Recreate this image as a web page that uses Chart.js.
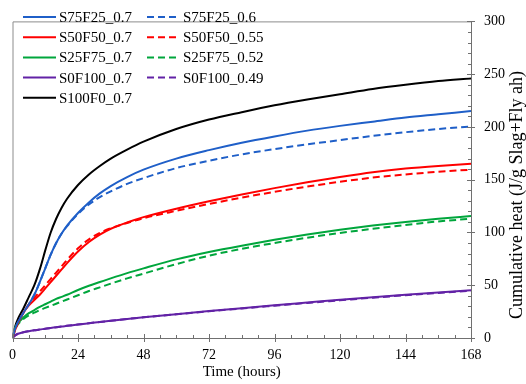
<!DOCTYPE html>
<html>
<head>
<meta charset="utf-8">
<script src="https://cdn.jsdelivr.net/npm/chart.js@4.4.1/dist/chart.umd.min.js"></script>
<style>
html,body{margin:0;padding:0;background:#fff;}
#wrap{width:526px;height:384px;}
</style>
</head>
<body>
<div id="wrap"><canvas id="c" width="526" height="384"></canvas></div>
<script>
// ---- data (hours, cumulative heat J/g) ----
const hours = [0,1,2,4,6,8,10,12,14,16,18,20,24,28,32,36,42,48,60,72,84,96,108,120,132,144,156,168];
const S75F25_07 = [0,9,15,24,32,41,53,66,79,90,99,106.5,118.5,128.5,137,144,152.5,159.5,170,178,185,191,196.5,201,205,209,212,215];
const S75F25_06 = [0,9,15,24,32,41,53,66,79,90,99,106,117.5,126.5,133.5,139,146,151.5,161,168,174,179,183.5,187.5,191.5,195,198,200.5];
const S50F50_07 = [0,8,14,24,31,36,41,47,53,59,65,71,82,91,98,103.5,109.5,114.5,122.5,129.5,136,142,147.5,152.5,157,160.5,163,165];
const S50F50_055 = [0,8,14,24,32,38,44,50,56,62,68,74,85,93.5,99.5,104,109,113.5,120.5,127,133,138.5,143.5,148,152,155,157.5,159.5];
const S25F75_07 = [0,10,14,19.5,23.5,26.5,29.5,32,34.5,37,39,41,45.5,49.5,53,56.5,61.5,66,74.5,81.5,87.5,93,98,102.5,106.5,110,113,115.5];
const S25F75_052 = [0,9,13,18,21.5,24,26.5,28.5,30.5,32.5,34.5,36.5,40.5,44.5,48,51.5,56.5,61,70,78,84.5,90,95,99.5,103.5,107,110.5,113];
const S0F100_07 = [0,2.5,4,5.5,6.5,7.3,8,8.8,9.5,10.2,10.9,11.5,12.8,14,15.2,16.3,18,19.6,22.6,25.5,28.3,31,33.6,36.2,38.7,41,43.2,45.3];
const S0F100_049 = [0,2.5,4,5.5,6.5,7.3,8,8.8,9.5,10.2,10.9,11.5,12.8,14,15.2,16.3,18,19.6,22.5,25.3,28,30.6,33.2,35.7,38.2,40.5,42.7,44.8];
const S100F0_07 = [0,11,18,28,39,50,65,83,100,113,123.5,132,145,155,163,170,178.5,186,198,207,214,220.5,226,231,236,240,243.5,246];

const xTicks = [0,24,48,72,96,120,144,168];
const yTicks = [0,50,100,150,200,250,300];
const xTitle = 'Time (hours)';
const yTitle = 'Cumulative heat (J/g Slag+Fly ah)';

const series = [
  {label:'S75F25_0.7', values:S75F25_07, color:'#1f5fc8', dashed:false},
  {label:'S75F25_0.6', values:S75F25_06, color:'#1f5fc8', dashed:true},
  {label:'S50F50_0.7', values:S50F50_07, color:'#ff0000', dashed:false},
  {label:'S50F50_0.55', values:S50F50_055, color:'#ff0000', dashed:true},
  {label:'S25F75_0.7', values:S25F75_07, color:'#00a63c', dashed:false},
  {label:'S25F75_0.52', values:S25F75_052, color:'#00a63c', dashed:true},
  {label:'S0F100_0.7', values:S0F100_07, color:'#6222a6', dashed:false},
  {label:'S0F100_0.49', values:S0F100_049, color:'#6222a6', dashed:true},
  {label:'S100F0_0.7', values:S100F0_07, color:'#000000', dashed:false}
];

const FONT = '"Liberation Serif", "Times New Roman", serif';
const DASH = [7,4];

const datasets = series.map(s => ({
  label: s.label,
  data: hours.map((h,i) => ({x:h, y:s.values[i]})),
  borderColor: s.color,
  backgroundColor: s.color,
  borderWidth: 2,
  borderDash: s.dashed ? DASH : [],
  pointRadius: 0,
  fill: false,
  cubicInterpolationMode: 'monotone',
  order: s.dashed ? 0 : 1
}));

const decorPlugin = {
  id: 'decor',
  afterDatasetsDraw(chart) {
    const ctx = chart.ctx;
    const a = chart.chartArea;
    const xs = chart.scales.x, ys = chart.scales.y;
    ctx.save();
    // frame
    ctx.strokeStyle = '#8c8c8c';
    ctx.lineWidth = 1;
    ctx.beginPath();
    ctx.moveTo(a.left+0.5, a.bottom); ctx.lineTo(a.left+0.5, a.top+0.5); ctx.lineTo(a.right, a.top+0.5);
    ctx.stroke();
    ctx.strokeStyle = '#707070';
    ctx.beginPath();
    ctx.moveTo(a.left, a.bottom+0.5); ctx.lineTo(a.right+0.5, a.bottom+0.5); ctx.lineTo(a.right+0.5, a.top);
    ctx.stroke();
    // x ticks (minor every 6, major every 24)
    ctx.beginPath();
    for (let h = 0; h <= 168; h += 6) {
      const px = Math.round(xs.getPixelForValue(h)) + 0.5;
      const major = h % 24 === 0;
      ctx.moveTo(px, a.bottom - (major ? 4 : 3));
      ctx.lineTo(px, a.bottom + (major ? 4 : 0));
    }
    // y ticks (minor every 10, major every 50)
    for (let v = 0; v <= 300; v += 10) {
      const py = Math.round(ys.getPixelForValue(v)) + 0.5;
      const major = v % 50 === 0;
      ctx.moveTo(a.right - (major ? 4 : 3), py);
      ctx.lineTo(a.right + (major ? 4 : 0), py);
    }
    ctx.stroke();
    // legend in two columns: solid left, dashed right
    ctx.font = '15px ' + FONT;
    ctx.textBaseline = 'middle';
    ctx.fillStyle = '#000';
    let r0 = 0, r1 = 0;
    chart.data.datasets.forEach(ds => {
      const dashed = ds.borderDash && ds.borderDash.length > 0;
      const row = dashed ? r1++ : r0++;
      const x0 = dashed ? 147 : 23;
      const y = 17 + row * 20.2;
      ctx.strokeStyle = ds.borderColor;
      ctx.lineWidth = 2;
      ctx.setLineDash(dashed ? DASH : []);
      ctx.beginPath();
      ctx.moveTo(x0, y); ctx.lineTo(x0 + 33, y);
      ctx.stroke();
      ctx.setLineDash([]);
      ctx.fillText(ds.label, x0 + 36, y + 1);
    });
    // right-side y title, reading bottom to top
    ctx.font = '18px ' + FONT;
    ctx.textAlign = 'center';
    ctx.translate(517, 195);
    ctx.rotate(-Math.PI / 2);
    ctx.fillText(yTitle, 0, 0);
    ctx.restore();
  }
};

new Chart(document.getElementById('c'), {
  type: 'line',
  data: { datasets },
  options: {
    responsive: false,
    animation: false,
    devicePixelRatio: 1,
    layout: { padding: { left: 6, top: 6, right: 0, bottom: 0 } },
    plugins: { legend: { display: false }, tooltip: { enabled: false } },
    scales: {
      x: {
        type: 'linear', min: 0, max: 168,
        afterFit: s => { s.height = 46; },
        afterBuildTicks: s => { s.ticks = xTicks.map(v => ({value: v})); },
        grid: { display: false, drawTicks: false },
        border: { display: false },
        ticks: { padding: 9, color: '#000', font: { family: FONT, size: 14 }, maxRotation: 0 },
        title: { display: true, text: xTitle, color: '#000', font: { family: FONT, size: 15 }, padding: { top: 0, bottom: 3 } }
      },
      y: {
        type: 'linear', position: 'right', min: 0, max: 300,
        afterFit: s => { s.width = 55; },
        afterBuildTicks: s => { s.ticks = yTicks.map(v => ({value: v})); },
        grid: { display: false, drawTicks: false },
        border: { display: false },
        ticks: { padding: 13, color: '#000', font: { family: FONT, size: 14 } }
      }
    }
  },
  plugins: [decorPlugin]
});
</script>
</body>
</html>
